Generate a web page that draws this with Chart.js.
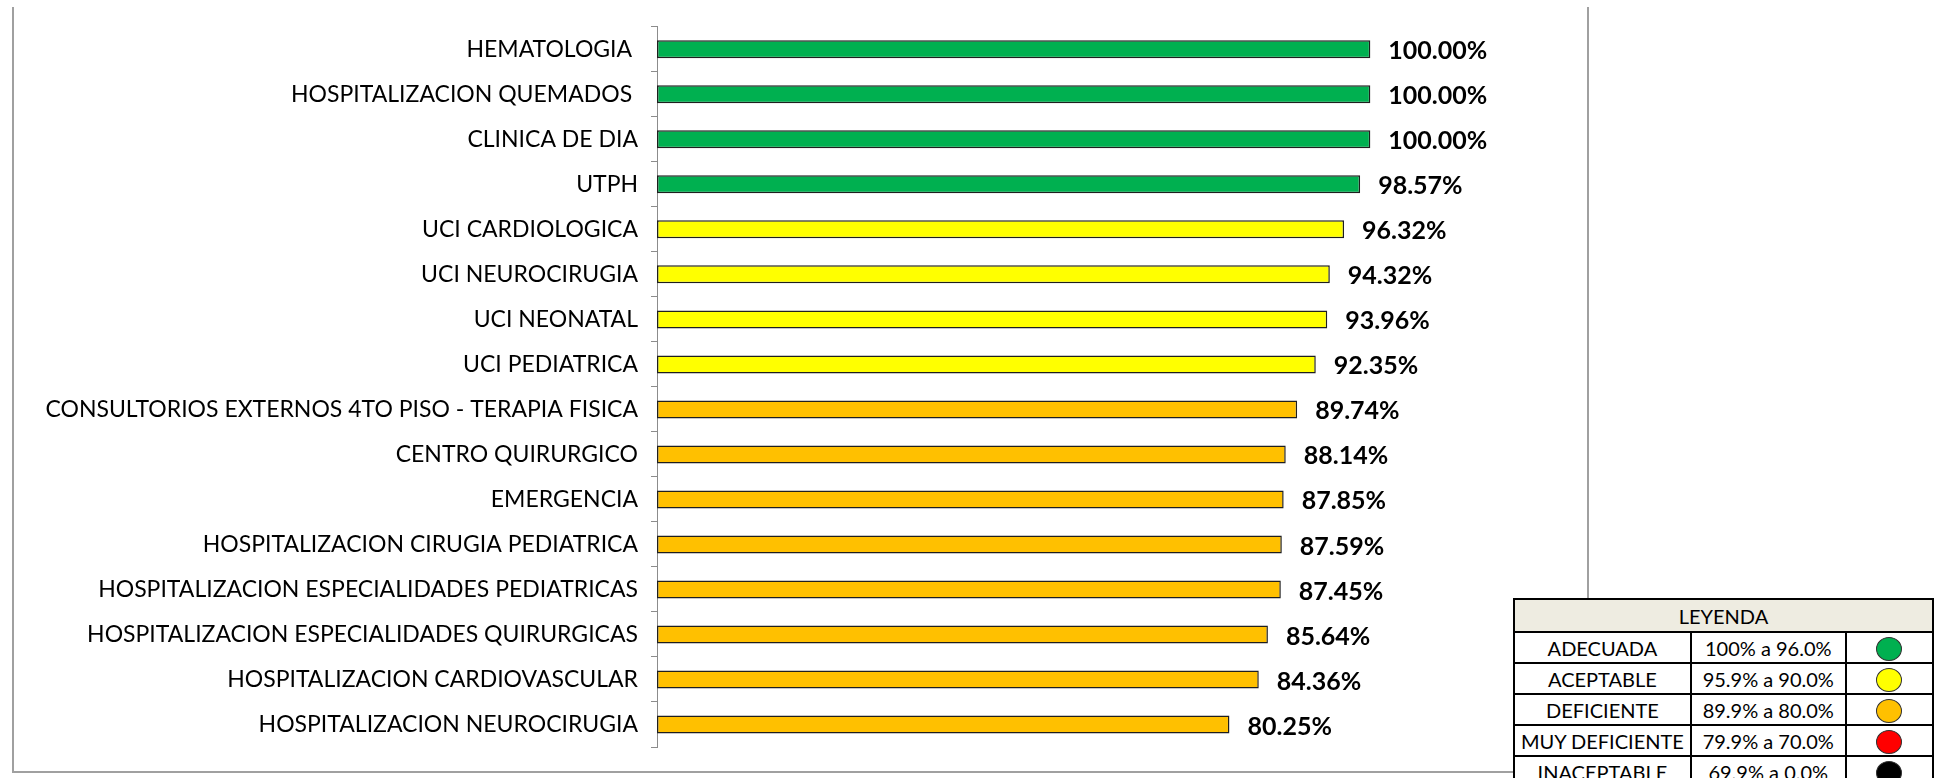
<!doctype html>
<html>

<head>
  <title>Cumplimiento por servicio</title>
  <script src="https://cdn.jsdelivr.net/npm/chart.js@4.4.1/dist/chart.umd.min.js"></script>
  <style>
    body {
      margin: 0;
      background: #fff;
      overflow: hidden;
      font-family: Lato, sans-serif;
    }
    .frame {
      position: absolute;
      left: 12px;
      top: 7px;
      width: 1573px;
      height: 764px;
      border-left: 2px solid #a0a0a0;
      border-right: 2px solid #a0a0a0;
      border-bottom: 2px solid #a0a0a0;
    }
    .chart {
      position: absolute;
      left: 0;
      top: 0;
      width: 1934px;
      height: 778px;
    }
    table.leyenda {
      position: absolute;
      left: 1513px;
      top: 598px;
      border-collapse: collapse;
      background: #fff;
      font-size: 20px;
      color: #000;
      text-align: center;
    }
    table.leyenda td {
      border: 2px solid #000;
      padding: 0;
      height: 29px;
      white-space: nowrap;
    }
    table.leyenda th {
      background: #eeece1;
      border: 2px solid #000;
      font-weight: normal;
      height: 31px;
      padding: 0;
    }
    table.leyenda td.rango {
      border-left: 2px solid #808080;
    }
    .dot {
      display: inline-block;
      width: 24px;
      height: 22px;
      border-radius: 50%;
      border: 1px solid #333;
      vertical-align: middle;
    }
  </style>
</head>

<body>
  <div class="frame"></div>
  <div class="chart">
    <canvas id="myChart" width="1934" height="778"></canvas>
  </div>
  <table class="leyenda" id="leyenda"></table>

  <script>
    var servicios = [
      'HEMATOLOGIA ',
      'HOSPITALIZACION QUEMADOS ',
      'CLINICA DE DIA',
      'UTPH',
      'UCI CARDIOLOGICA',
      'UCI NEUROCIRUGIA',
      'UCI NEONATAL',
      'UCI PEDIATRICA',
      'CONSULTORIOS EXTERNOS 4TO PISO - TERAPIA FISICA',
      'CENTRO QUIRURGICO',
      'EMERGENCIA',
      'HOSPITALIZACION CIRUGIA PEDIATRICA',
      'HOSPITALIZACION ESPECIALIDADES PEDIATRICAS',
      'HOSPITALIZACION ESPECIALIDADES QUIRURGICAS',
      'HOSPITALIZACION CARDIOVASCULAR',
      'HOSPITALIZACION NEUROCIRUGIA'
    ];
    var porcentajes = [100.00, 100.00, 100.00, 98.57, 96.32, 94.32, 93.96, 92.35,
      89.74, 88.14, 87.85, 87.59, 87.45, 85.64, 84.36, 80.25];
    var nivel = ['ADECUADA', 'ADECUADA', 'ADECUADA', 'ADECUADA',
      'ACEPTABLE', 'ACEPTABLE', 'ACEPTABLE', 'ACEPTABLE',
      'DEFICIENTE', 'DEFICIENTE', 'DEFICIENTE', 'DEFICIENTE',
      'DEFICIENTE', 'DEFICIENTE', 'DEFICIENTE', 'DEFICIENTE'];

    // leyenda de niveles
    var niveles = ['ADECUADA', 'ACEPTABLE', 'DEFICIENTE', 'MUY DEFICIENTE', 'INACEPTABLE'];
    var rangos = ['100% a 96.0%', '95.9% a 90.0%', '89.9% a 80.0%', '79.9% a 70.0%', '69.9% a 0.0%'];
    var coloresNivel = ['#00b050', '#ffff00', '#ffc000', '#ff0000', '#000000'];

    function colorDe(n) {
      return coloresNivel[niveles.indexOf(n)];
    }

    var html = '<tr><th colspan="3">LEYENDA</th></tr>';
    for (var i = 0; i < niveles.length; i++) {
      html += '<tr><td style="width:176px">' + niveles[i] + '</td>' +
        '<td class="rango" style="width:155px">' + rangos[i] + '</td>' +
        '<td style="width:91px"><span class="dot" style="background:' + coloresNivel[i] + '"></span></td></tr>';
    }
    document.getElementById('leyenda').innerHTML = html;

    // etiquetas de porcentaje al final de cada barra
    var valueLabels = {
      id: 'valueLabels',
      afterDatasetsDraw: function(chart) {
        var ctx = chart.ctx;
        var meta = chart.getDatasetMeta(0);
        ctx.save();
        ctx.font = 'bold 25px Lato';
        ctx.fillStyle = '#000';
        ctx.textAlign = 'left';
        ctx.textBaseline = 'middle';
        meta.data.forEach(function(bar, idx) {
          var v = chart.data.datasets[0].data[idx];
          ctx.fillText(v.toFixed(2) + '%', bar.x + 18, bar.y + 2);
        });
        ctx.restore();
      }
    };

    var config = {
      type: 'bar',
      data: {
        labels: servicios,
        datasets: [{
          data: porcentajes,
          backgroundColor: nivel.map(colorDe),
          borderColor: '#1e1e1e',
          borderWidth: 1.5,
          borderSkipped: false,
          barPercentage: 0.4,
          categoryPercentage: 1
        }]
      },
      options: {
        indexAxis: 'y',
        responsive: false,
        animation: false,
        layout: {
          padding: {top: 6, bottom: 31, left: 0, right: 207}
        },
        scales: {
          x: {
            display: false,
            min: 0,
            max: 150
          },
          y: {
            afterFit: function(scale) {
              scale.width = 657;
            },
            grid: {
              offset: true,
              drawOnChartArea: false,
              drawTicks: true,
              tickLength: 6,
              color: '#8c8c8c'
            },
            border: {
              display: true,
              color: '#8c8c8c',
              width: 1
            },
            ticks: {
              padding: 13,
              color: '#000',
              font: {family: 'Lato', size: 23},
              autoSkip: false
            }
          }
        },
        plugins: {
          legend: {display: false},
          tooltip: {enabled: false}
        }
      },
      plugins: [valueLabels]
    };

    window.onload = function() {
      var ctx = document.getElementById('myChart').getContext('2d');
      window.myChart = new Chart(ctx, config);
    };
  </script>
</body>

</html>
